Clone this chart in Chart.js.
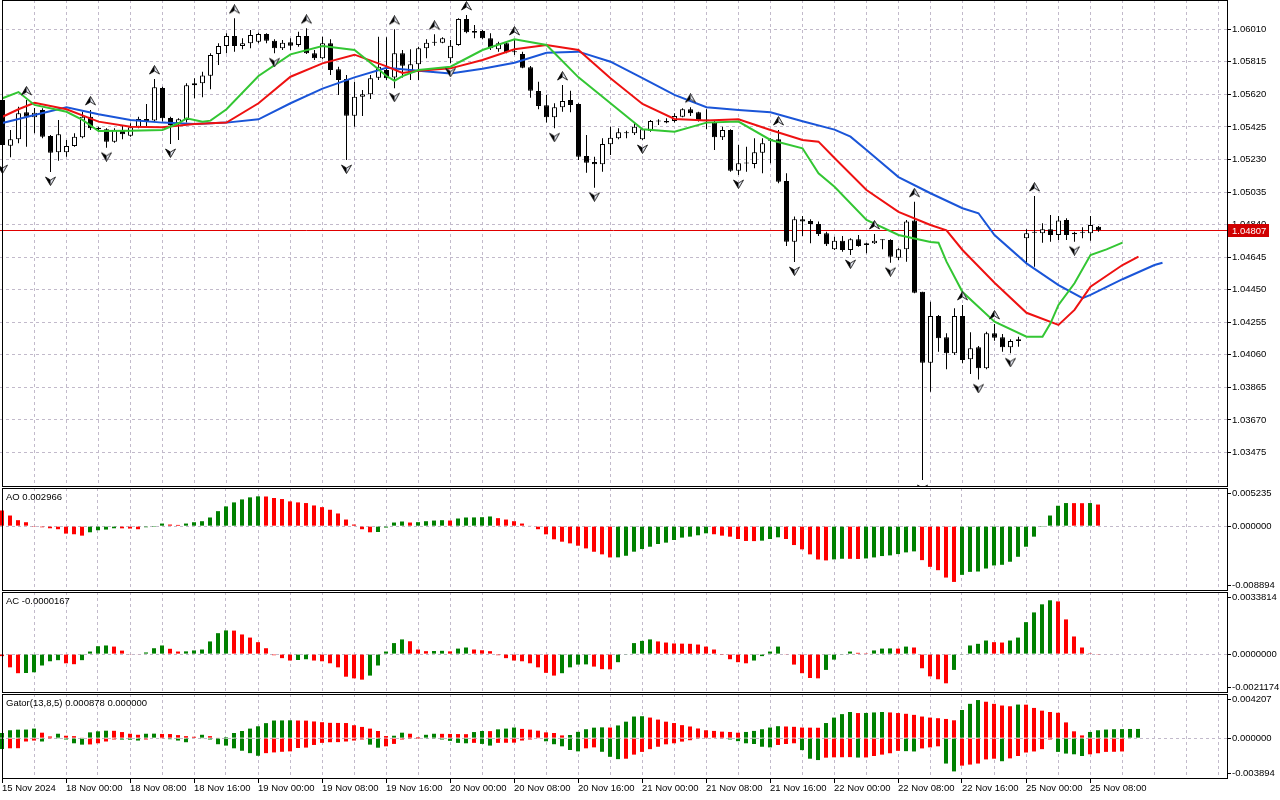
<!DOCTYPE html>
<html>
<head>
<meta charset="utf-8">
<title>EURUSD H1 - Alligator, AO, AC, Gator</title>
<script src="https://cdn.jsdelivr.net/npm/chart.js@4.4.1/dist/chart.umd.min.js"></script>
<style>
  html, body { margin: 0; padding: 0; background: #fff; }
  body { width: 1280px; height: 800px; position: relative; overflow: hidden; }
  canvas { position: absolute; left: 0; }
</style>
</head>
<body>
<canvas id="mainChart" width="1280" height="487" style="top:0px"></canvas>
<canvas id="aoChart" width="1280" height="103" style="top:488px"></canvas>
<canvas id="acChart" width="1280" height="101" style="top:592px"></canvas>
<canvas id="gatorChart" width="1280" height="106" style="top:694px"></canvas>
<script>
// hourly candles, 15 Nov 2024 16:00 .. 25 Nov 2024 09:00
const opens = [1.05587,1.05313,1.05351,1.05513,1.05483,1.05527,1.05371,1.05273,1.05273,1.05311,
  1.05363,1.05486,1.05421,1.05411,1.05337,1.05407,1.05373,1.05427,1.05473,1.05463,
  1.05658,1.05479,1.05447,1.05467,1.05675,1.05687,1.05732,1.05862,1.05910,1.05970,
  1.05910,1.05926,1.05936,1.05982,1.05942,1.05896,1.05932,1.05916,1.05970,1.05866,
  1.05836,1.05926,1.05770,1.05712,1.05492,1.05606,1.05621,1.05720,1.05766,1.05722,
  1.05866,1.05756,1.05800,1.05896,1.05930,1.05930,1.05836,1.05916,1.06072,1.06000,
  1.06000,1.05956,1.05890,1.05926,1.05876,1.05862,1.05782,1.05640,1.05555,1.05483,
  1.05543,1.05587,1.05563,1.05251,1.05215,1.05201,1.05321,1.05357,1.05387,1.05387,
  1.05351,1.05403,1.05457,1.05461,1.05461,1.05486,1.05531,1.05513,1.05463,1.05453,
  1.05363,1.05407,1.05163,1.05206,1.05203,1.05271,1.05343,1.05351,1.05101,1.04738,
  1.04872,1.04862,1.04844,1.04788,1.04692,1.04744,1.04688,1.04752,1.04718,1.04728,
  1.04748,1.04748,1.04642,1.04692,1.04864,1.04438,1.04013,1.04293,1.04165,1.04069,
  1.04293,1.04033,1.04105,1.03979,1.04189,1.04165,1.04105,1.04143,1.04758,1.04792,
  1.04788,1.04812,1.04778,1.04868,1.04782,1.04792,1.04788,1.04828];
const highs = [1.05604,1.05407,1.05546,1.05587,1.05539,1.05537,1.05377,1.05467,1.05347,1.05387,
  1.05516,1.05527,1.05427,1.05417,1.05417,1.05437,1.05447,1.05486,1.05563,1.05712,
  1.05666,1.05486,1.05477,1.05687,1.05717,1.05756,1.05866,1.05926,1.05986,1.06076,
  1.05956,1.06006,1.05990,1.05986,1.05950,1.05946,1.05956,1.05996,1.06016,1.05886,
  1.05966,1.05950,1.05786,1.05736,1.05696,1.05646,1.05736,1.05966,1.05962,1.06010,
  1.05886,1.05890,1.05906,1.05950,1.05980,1.05962,1.05946,1.06076,1.06096,1.06036,
  1.06006,1.05986,1.05936,1.05936,1.05946,1.05876,1.05790,1.05696,1.05616,1.05567,
  1.05676,1.05642,1.05567,1.05377,1.05247,1.05357,1.05427,1.05417,1.05403,1.05447,
  1.05417,1.05467,1.05471,1.05477,1.05507,1.05537,1.05543,1.05516,1.05531,1.05467,
  1.05427,1.05411,1.05317,1.05307,1.05357,1.05357,1.05357,1.05407,1.05147,1.04888,
  1.04892,1.04872,1.04858,1.04798,1.04768,1.04772,1.04758,1.04778,1.04732,1.04784,
  1.04752,1.04752,1.04698,1.04868,1.04977,1.04438,1.04378,1.04299,1.04189,1.04339,
  1.04359,1.04195,1.04113,1.04199,1.04245,1.04185,1.04153,1.04169,1.04812,1.05011,
  1.04848,1.04898,1.04892,1.04878,1.04798,1.04824,1.04892,1.04832];
const lows = [1.05227,1.05243,1.05327,1.05307,1.05387,1.05357,1.05155,1.05223,1.05247,1.05307,
  1.05357,1.05407,1.05397,1.05301,1.05331,1.05351,1.05367,1.05417,1.05427,1.05457,
  1.05457,1.05323,1.05347,1.05451,1.05597,1.05603,1.05651,1.05796,1.05866,1.05876,
  1.05890,1.05896,1.05926,1.05926,1.05866,1.05886,1.05886,1.05906,1.05862,1.05826,
  1.05830,1.05736,1.05616,1.05227,1.05427,1.05491,1.05592,1.05706,1.05706,1.05657,
  1.05722,1.05706,1.05706,1.05836,1.05912,1.05926,1.05806,1.05912,1.05986,1.05956,
  1.05950,1.05886,1.05876,1.05866,1.05856,1.05776,1.05600,1.05531,1.05451,1.05417,
  1.05516,1.05513,1.05227,1.05151,1.05061,1.05157,1.05257,1.05351,1.05357,1.05377,
  1.05347,1.05397,1.05437,1.05447,1.05451,1.05483,1.05491,1.05457,1.05411,1.05287,
  1.05347,1.05157,1.05137,1.05157,1.05177,1.05147,1.05207,1.05088,1.04712,1.04616,
  1.04772,1.04728,1.04772,1.04712,1.04688,1.04678,1.04658,1.04708,1.04668,1.04724,
  1.04692,1.04612,1.04628,1.04618,1.04429,1.03310,1.03839,1.04079,1.03973,1.04059,
  1.04009,1.03945,1.03913,1.03973,1.04145,1.04079,1.04069,1.04109,1.04608,1.04588,
  1.04732,1.04738,1.04748,1.04748,1.04738,1.04758,1.04744,1.04798];
const closes = [1.05317,1.05351,1.05507,1.05486,1.05510,1.05367,1.05271,1.05381,1.05311,1.05367,
  1.05486,1.05417,1.05411,1.05337,1.05407,1.05381,1.05423,1.05473,1.05461,1.05663,
  1.05477,1.05437,1.05471,1.05675,1.05687,1.05734,1.05856,1.05910,1.05970,1.05910,
  1.05926,1.05976,1.05982,1.05942,1.05896,1.05930,1.05912,1.05970,1.05866,1.05836,
  1.05926,1.05766,1.05706,1.05492,1.05606,1.05621,1.05717,1.05786,1.05717,1.05866,
  1.05792,1.05800,1.05896,1.05930,1.05936,1.05956,1.05912,1.06072,1.05992,1.05990,
  1.05956,1.05896,1.05926,1.05872,1.05872,1.05780,1.05642,1.05551,1.05483,1.05543,
  1.05581,1.05557,1.05247,1.05211,1.05201,1.05323,1.05361,1.05393,1.05393,1.05427,
  1.05411,1.05461,1.05459,1.05451,1.05491,1.05531,1.05507,1.05461,1.05465,1.05363,
  1.05407,1.05163,1.05207,1.05208,1.05273,1.05327,1.05351,1.05097,1.04738,1.04872,
  1.04858,1.04844,1.04784,1.04722,1.04744,1.04688,1.04752,1.04712,1.04728,1.04744,
  1.04746,1.04648,1.04692,1.04858,1.04432,1.04013,1.04293,1.04159,1.04069,1.04293,
  1.04029,1.04099,1.03979,1.04189,1.04163,1.04105,1.04143,1.04153,1.04788,1.04793,
  1.04812,1.04778,1.04864,1.04778,1.04792,1.04793,1.04838,1.04807];

// fractal bars (arrow above the high / below the low)
const fractalUpBars = [3, 11, 19, 29, 38, 49, 54, 58, 64, 70, 86, 97, 109, 114, 120, 124, 129];
const fractalDownBars = [0, 6, 13, 21, 34, 43, 49, 56, 69, 74, 80, 92, 99, 106, 111, 115, 122, 126, 134];

// alligator lines (already shifted forward)
const jawBars = [0,4,8,12,16,20,24,28,32,36,40,44,48,52,56,60,64,68,72,76,80,84,88,92,96,100,104,106,108,112,116,120,122,124,128,132,135,136,140,144,145];
const jawValues = [1.05449,1.05497,1.05543,1.05501,1.05467,1.05451,1.05443,1.05451,1.05471,1.05567,1.05655,1.05722,1.05780,1.05762,1.05746,1.05774,1.05810,1.05870,1.05876,1.05816,1.05718,1.05617,1.05543,1.05527,1.05513,1.05459,1.05409,1.05367,1.05287,1.05125,1.05028,1.04938,1.04908,1.04778,1.04608,1.04478,1.04399,1.04419,1.04513,1.04598,1.04612];
const teethBars = [0,2,4,8,12,16,20,24,28,32,36,40,44,48,50,52,56,60,64,68,72,76,80,84,88,92,96,100,102,104,108,112,116,118,120,124,128,132,134,136,140,142];
const teethValues = [1.05486,1.05531,1.05570,1.05531,1.05457,1.05427,1.05423,1.05443,1.05451,1.05567,1.05726,1.05806,1.05858,1.05788,1.05748,1.05762,1.05776,1.05826,1.05890,1.05916,1.05886,1.05717,1.05563,1.05473,1.05463,1.05471,1.05407,1.05347,1.05337,1.05239,1.05047,1.04916,1.04838,1.04806,1.04688,1.04492,1.04312,1.04239,1.04329,1.04468,1.04598,1.04648];
const lipsBars = [0,2,4,8,10,12,16,20,22,23,25,26,28,32,36,40,44,46,48,49,50,52,56,60,64,68,72,76,80,84,88,92,96,100,102,104,108,112,116,117,118,120,124,128,130,131,132,134,136,138,140];
const lipsValues = [1.05597,1.05634,1.05557,1.05516,1.05467,1.05401,1.05403,1.05407,1.05447,1.05477,1.05457,1.05463,1.05531,1.05730,1.05860,1.05910,1.05886,1.05810,1.05730,1.05702,1.05730,1.05766,1.05786,1.05886,1.05950,1.05916,1.05722,1.05567,1.05411,1.05397,1.05451,1.05457,1.05347,1.05297,1.05147,1.05067,1.04868,1.04778,1.04736,1.04732,1.04618,1.04436,1.04259,1.04169,1.04169,1.04249,1.04359,1.04489,1.04658,1.04692,1.04732];

const aoValues = [0.00215,0.00146,0.00082,0.00054,-0.00003,-0.00015,-0.00029,-0.00042,-0.00102,-0.00111,
  -0.0013,-0.00084,-0.00056,-0.00047,-0.00029,-0.0003,-0.00033,-0.00042,-0.00015,-0.00001,
  0.00036,0.00022,0.00017,0.00036,0.00054,0.00068,0.00119,0.00206,0.00271,0.00326,
  0.00367,0.00395,0.00409,0.00407,0.00386,0.00372,0.0034,0.00326,0.00317,0.00284,
  0.00261,0.00225,0.00174,0.00091,0.00022,-0.00042,-0.00084,-0.0008,-0.00019,0.0005,
  0.00064,0.0005,0.00055,0.00068,0.00077,0.00082,0.00077,0.00105,0.00119,0.0012,
  0.00123,0.00133,0.0011,0.00091,0.00068,0.00036,0.00008,-0.00042,-0.00112,-0.0018,
  -0.00213,-0.00236,-0.00268,-0.00305,-0.00351,-0.00387,-0.00429,-0.00428,-0.00406,-0.0035,
  -0.00314,-0.00282,-0.00245,-0.00226,-0.0019,-0.00157,-0.00144,-0.00125,-0.00098,-0.00111,
  -0.0013,-0.00144,-0.00176,-0.00203,-0.00205,-0.00199,-0.00176,-0.00153,-0.00176,-0.00259,
  -0.00318,-0.00387,-0.00457,-0.0047,-0.00456,-0.00447,-0.00448,-0.0045,-0.00443,-0.00429,
  -0.0041,-0.00401,-0.00383,-0.0036,-0.00346,-0.00466,-0.00558,-0.00604,-0.00705,-0.00765,
  -0.00668,-0.00627,-0.00622,-0.00581,-0.00539,-0.0053,-0.00488,-0.0042,-0.00282,-0.00144,
  -0.00003,0.00146,0.0028,0.00317,0.00316,0.00315,0.00317,0.002966];
const acValues = [-0.00011,-0.00072,-0.00104,-0.00103,-0.00099,-0.00062,-0.00039,-0.00033,-0.0005,-0.00055,
  -0.00033,0.00014,0.00043,0.00047,0.00041,0.00019,-0.00002,-0.00003,0.00009,0.00032,
  0.00047,0.00029,0.00014,0.00015,0.0002,0.00025,0.00069,0.00114,0.00129,0.00128,
  0.00107,0.0009,0.00065,0.00032,-0.00006,-0.00022,-0.00035,-0.00032,-0.00028,-0.00035,
  -0.00039,-0.0005,-0.00072,-0.00123,-0.00132,-0.00139,-0.00117,-0.00062,0.00014,0.0006,
  0.0008,0.0007,0.00025,0.00016,0.00017,0.00018,0.00015,0.0003,0.00036,0.00025,
  0.00021,0.00016,-0.00006,-0.00022,-0.00035,-0.00039,-0.0005,-0.00072,-0.00102,-0.00117,
  -0.00104,-0.00072,-0.00057,-0.00056,-0.00068,-0.00082,-0.00083,-0.00044,-0.00002,0.0006,
  0.00072,0.0008,0.00069,0.00063,0.00058,0.00057,0.00056,0.00052,0.00041,0.00025,
  -0.00001,-0.00028,-0.00044,-0.0005,-0.00035,-0.00011,0.00014,0.00041,-0.00002,-0.00057,
  -0.00104,-0.0013,-0.00132,-0.00086,-0.0003,-0.00002,0.00014,0.00007,0.00001,0.0002,
  0.0003,0.00031,0.0003,0.00041,0.00036,-0.00077,-0.00121,-0.00137,-0.00159,-0.00086,
  -0.00002,0.00047,0.00056,0.00074,0.00065,0.00063,0.00074,0.0009,0.00174,0.00227,
  0.00271,0.00293,0.00287,0.00189,0.00096,0.00036,0.00001,-0.0000167];
const gatorUp = [0.00049,0.00075,0.00081,0.00082,0.00091,0.00052,0.00016,0.00042,0.00023,0.00019,
  0.00006,0.00055,0.00065,0.00071,0.0007,0.00058,0.00042,0.00032,0.00042,0.00043,
  0.0004,0.00039,0.00029,0.00019,0.00013,0.00032,0.00019,0.00004,0.0001,0.00049,
  0.00068,0.00091,0.00113,0.00143,0.00168,0.00169,0.0017,0.00168,0.00167,0.00159,
  0.00152,0.00146,0.00145,0.00144,0.00123,0.00107,0.00091,0.00068,0.0002,0.00023,
  0.00052,0.00042,0.0001,0.00032,0.00042,0.00041,0.0004,0.00039,0.00038,0.00058,
  0.00068,0.00067,0.00084,0.00091,0.00101,0.00088,0.00081,0.00071,0.00055,0.00049,
  0.00026,0.0003,0.0006,0.00085,0.001,0.00103,0.00101,0.00121,0.00157,0.00206,
  0.00209,0.00196,0.00177,0.00157,0.00144,0.00124,0.00111,0.00092,0.00075,0.00069,
  0.00062,0.00059,0.00052,0.00059,0.00069,0.00085,0.00101,0.00114,0.00111,0.00108,
  0.00101,0.001,0.00099,0.00144,0.00196,0.00229,0.00249,0.00239,0.0024,0.00245,
  0.00249,0.00245,0.00239,0.00232,0.00222,0.00206,0.00196,0.0019,0.00183,0.0017,
  0.00268,0.00327,0.00363,0.00347,0.00327,0.00311,0.00304,0.0032,0.00319,0.00288,
  0.00262,0.00249,0.00242,0.0015,0.00065,0.00026,0.00059,0.00075,0.00082,0.00085,
  0.00086,0.000875,0.000878];
const gatorDown = [-0.00104,-0.00097,-0.00096,-0.00032,-0.00023,-0.00032,-0.00002,-0.00003,-0.00013,-0.00049,
  -0.00062,-0.0006,-0.00049,-0.00032,-0.00013,-0.00014,-0.00015,-0.00023,-0.00013,-0.00005,
  -0.00003,-0.0001,-0.00023,-0.00039,-0.00005,-0.00006,-0.00013,-0.00058,-0.00071,-0.00097,
  -0.0012,-0.00143,-0.00168,-0.00143,-0.00136,-0.0013,-0.00126,-0.00094,-0.0009,-0.00065,
  -0.00045,-0.00039,-0.00038,-0.00032,-0.00023,-0.00013,-0.00062,-0.00091,-0.00078,-0.00055,
  -0.00013,-0.00002,-0.00001,-0.00006,-0.00007,-0.00013,-0.00026,-0.00045,-0.00049,-0.00045,
  -0.00055,-0.00071,-0.00045,-0.00044,-0.00043,-0.00023,-0.00013,-0.00006,-0.0003,-0.00058,
  -0.00078,-0.00113,-0.00126,-0.00097,-0.00088,-0.0013,-0.00178,-0.002,-0.00196,-0.00157,
  -0.00131,-0.00105,-0.00082,-0.00059,-0.00049,-0.00033,-0.0002,-0.00007,-0.00006,-0.00005,
  -0.00003,-0.00013,-0.00029,-0.00049,-0.00056,-0.00082,-0.00088,-0.00065,-0.00056,-0.00049,
  -0.00114,-0.00196,-0.00209,-0.00186,-0.00183,-0.00182,-0.00181,-0.00185,-0.00184,-0.0017,
  -0.00157,-0.00144,-0.00121,-0.00124,-0.00127,-0.00098,-0.00088,-0.00078,-0.00242,-0.00317,
  -0.00262,-0.00252,-0.00242,-0.00203,-0.00196,-0.0022,-0.00193,-0.0017,-0.00137,-0.00127,
  -0.00105,-0.00013,-0.00131,-0.00147,-0.00154,-0.0017,-0.00154,-0.00144,-0.00131,-0.0013,
  -0.00127];

const timeLabels = ['15 Nov 2024','18 Nov 00:00','18 Nov 08:00','18 Nov 16:00','19 Nov 00:00','19 Nov 08:00',
  '19 Nov 16:00','20 Nov 00:00','20 Nov 08:00','20 Nov 16:00','21 Nov 00:00','21 Nov 08:00',
  '21 Nov 16:00','22 Nov 00:00','22 Nov 08:00','22 Nov 16:00','25 Nov 00:00','25 Nov 08:00'];
const priceTicks = [1.06010,1.05815,1.05620,1.05425,1.05230,1.05035,1.04840,1.04645,1.04450,1.04255,1.04060,1.03865,1.03670,1.03475];
const priceTop = 1.061855, priceBottom = 1.032684;
const aoRange = [0.005235, -0.008894], aoLabels = ['0.005235', '0.000000', '-0.008894'];
const acRange = [0.0033814, -0.0021174], acLabels = ['0.0033814', '0.0000000', '-0.0021174'];
const gatorRange = [0.004207, -0.003894], gatorLabels = ['0.004207', '0.000000', '-0.003894'];
const lastPrice = closes[closes.length - 1];

const FONT = "'Liberation Sans', Arial, sans-serif";
const GRID = '#c2bacb';
const GREEN = '#008000', RED = '#ff0000';
const BAR_PX = 8;       // one bar every 8 px
const AREA_W = 1227;    // plot width, right axis takes the rest

Chart.defaults.font.family = FONT;
Chart.defaults.font.size = 9.5;
Chart.defaults.color = '#000';
Chart.defaults.animation = false;
Chart.defaults.layout.autoPadding = false;
Chart.defaults.plugins.legend.display = false;
Chart.defaults.plugins.tooltip.enabled = false;

// frame round each window
const frame = {
  id: 'frame',
  afterDraw(chart) {
    const {ctx, chartArea: a} = chart;
    ctx.save();
    ctx.strokeStyle = '#000';
    ctx.lineWidth = 1;
    ctx.strokeRect(2.5, a.top + 0.5, a.right - 2, a.bottom - a.top - 1);
    ctx.restore();
  }
};

const panelTitle = {
  id: 'panelTitle',
  afterDraw(chart, args, opts) {
    if (!opts.text) return;
    const {ctx, chartArea: a} = chart;
    ctx.save();
    ctx.font = '9.5px ' + FONT;
    ctx.fillStyle = '#000';
    ctx.textBaseline = 'middle';
    ctx.fillText(opts.text, 6, a.top + 9.5);
    ctx.restore();
  }
};

const priceTag = {
  id: 'priceTag',
  beforeDatasetsDraw(chart) {
    const {ctx, chartArea: a} = chart;
    const y = Math.round(chart.scales.y.getPixelForValue(lastPrice)) + 0.5;
    ctx.save();
    ctx.strokeStyle = '#e00000';
    ctx.lineWidth = 1;
    ctx.beginPath();
    ctx.moveTo(a.left, y);
    ctx.lineTo(a.right, y);
    ctx.stroke();
    ctx.restore();
  },
  afterDraw(chart) {
    const {ctx, chartArea: a} = chart;
    const y = Math.round(chart.scales.y.getPixelForValue(lastPrice));
    ctx.save();
    ctx.fillStyle = '#d00000';
    ctx.fillRect(a.right + 1, y - 6, 41, 13);
    ctx.fillStyle = '#fff';
    ctx.font = '9.5px ' + FONT;
    ctx.textBaseline = 'middle';
    ctx.fillText(lastPrice.toFixed(5), a.right + 5, y + 1);
    ctx.restore();
  }
};

function arrowImage(up) {
  const c = document.createElement('canvas');
  c.width = 11; c.height = 28;
  const g = c.getContext('2d');
  if (!up) { g.translate(0, 28); g.scale(1, -1); }
  g.beginPath();
  g.moveTo(5.5, 0.5); g.lineTo(0.5, 9); g.lineTo(5.5, 6); g.lineTo(10.5, 9); g.closePath();
  g.fillStyle = '#dfe3ee'; g.fill();
  g.strokeStyle = '#303030'; g.lineWidth = 1; g.stroke();
  g.beginPath();
  g.moveTo(5.5, 0.5); g.lineTo(0.5, 9); g.lineTo(5.5, 6); g.closePath();
  g.fillStyle = '#000'; g.fill();
  return c;
}

function xAxis(min, withLabels) {
  return {
    type: 'linear', min: min, max: min + AREA_W / BAR_PX, offset: false,
    afterBuildTicks: s => {
      const t = [];
      for (let v = 0; v <= 152; v += 4) t.push({value: v});
      s.ticks = t;
    },
    afterFit: s => { s.paddingLeft = 0; s.paddingRight = 0; s.height = withLabels ? 21 : 0; },
    grid: {
      color: GRID, offset: false, drawTicks: withLabels, tickLength: 4,
      tickColor: c => (c.tick && c.tick.value % 8 === 0 && c.tick.value / 8 < timeLabels.length) ? '#000' : 'rgba(0,0,0,0)'
    },
    border: { display: false, dash: [3, 3] },
    ticks: {
      display: withLabels, autoSkip: false, maxRotation: 0, minRotation: 0, align: 'start', padding: 0,
      callback: v => (v % 8 === 0 && timeLabels[v / 8]) ? timeLabels[v / 8] : ''
    }
  };
}

function panelY(range, labels) {
  return {
    position: 'right', max: range[0], min: range[1],
    afterBuildTicks: s => {
      const k = (s.max - s.min) / s.height;
      s.ticks = [{value: s.max - 5.5 * k}, {value: 0}, {value: s.min + 5.5 * k}];
    },
    afterFit: s => { s.width = 1280 - AREA_W; s.paddingTop = 0; s.paddingBottom = 0; },
    grid: { color: c => c.index === 1 ? GRID : 'rgba(0,0,0,0)', tickColor: '#000', tickLength: 4 },
    border: { display: false, dash: [3, 3] },
    ticks: { padding: 1, autoSkip: false, callback: (v, i) => labels[i] }
  };
}

function histColors(values, first, useAbs) {
  return values.map((v, i) => {
    if (i === 0) return first;
    const a = useAbs ? Math.abs(v) : v;
    const b = useAbs ? Math.abs(values[i - 1]) : values[i - 1];
    return a > b ? GREEN : RED;
  });
}

function histSet(values, colors) {
  return {
    data: values.map((v, i) => ({x: i, y: v})),
    backgroundColor: colors, borderWidth: 0, barThickness: 4,
    grouped: false, inflateAmount: 0
  };
}

// main window: candles, alligator, fractals
const wickData = highs.map((h, i) => ({x: i, y: [lows[i], h]}));
const bodyData = opens.map((o, i) => ({x: i, y: [o, closes[i]]}));
const bodyFill = opens.map((o, i) => closes[i] >= o ? '#ffffff' : '#000000');
const pairs = (bars, vals) => bars.map((b, i) => ({x: b, y: vals[i]}));

new Chart(document.getElementById('mainChart'), {
  type: 'bar',
  data: {
    datasets: [
      { data: wickData, backgroundColor: '#000', borderWidth: 0, barThickness: 1, grouped: false, inflateAmount: 0, order: 5 },
      { data: bodyData, backgroundColor: bodyFill, borderColor: '#000', borderWidth: 1, borderSkipped: false,
        barThickness: 5, minBarLength: 1, grouped: false, inflateAmount: 0, order: 4 },
      { type: 'line', data: pairs(jawBars, jawValues), borderColor: '#1a55d8', borderWidth: 2, pointRadius: 0, tension: 0, order: 3 },
      { type: 'line', data: pairs(teethBars, teethValues), borderColor: '#ee1111', borderWidth: 2, pointRadius: 0, tension: 0, order: 2 },
      { type: 'line', data: pairs(lipsBars, lipsValues), borderColor: '#33c633', borderWidth: 2, pointRadius: 0, tension: 0, order: 1 },
      { type: 'line', showLine: false, data: fractalUpBars.map(b => ({x: b, y: highs[b]})),
        pointStyle: arrowImage(true), pointRadius: 5, order: 0 },
      { type: 'line', showLine: false, data: fractalDownBars.map(b => ({x: b, y: lows[b]})),
        pointStyle: arrowImage(false), pointRadius: 5, order: 0 }
    ]
  },
  options: {
    responsive: false, devicePixelRatio: 1, events: [],
    layout: { padding: 0, autoPadding: false },
    scales: {
      x: xAxis(-2.5 / BAR_PX, false),
      y: {
        position: 'right', min: priceBottom, max: priceTop,
        afterBuildTicks: s => { s.ticks = priceTicks.map(v => ({value: v})); },
        afterFit: s => { s.width = 1280 - AREA_W; s.paddingTop = 0; s.paddingBottom = 0; },
        grid: { color: GRID, tickColor: '#000', tickLength: 4 },
        border: { display: false, dash: [3, 3] },
        ticks: { padding: 1, autoSkip: false, callback: v => v.toFixed(5) }
      }
    }
  },
  plugins: [priceTag, frame]
});

// AO window
new Chart(document.getElementById('aoChart'), {
  type: 'bar',
  data: { datasets: [histSet(aoValues, histColors(aoValues, RED, false))] },
  options: {
    responsive: false, devicePixelRatio: 1, events: [],
    scales: { x: xAxis(-2 / BAR_PX, false), y: panelY(aoRange, aoLabels) },
    plugins: { panelTitle: { text: 'AO ' + aoValues[aoValues.length - 1].toFixed(6) } }
  },
  plugins: [panelTitle, frame]
});

// AC window
new Chart(document.getElementById('acChart'), {
  type: 'bar',
  data: { datasets: [histSet(acValues, histColors(acValues, RED, false))] },
  options: {
    responsive: false, devicePixelRatio: 1, events: [],
    scales: { x: xAxis(-2 / BAR_PX, false), y: panelY(acRange, acLabels) },
    plugins: { panelTitle: { text: 'AC ' + acValues[acValues.length - 1].toFixed(7) } }
  },
  plugins: [panelTitle, frame]
});

// Gator window with the time axis
new Chart(document.getElementById('gatorChart'), {
  type: 'bar',
  data: {
    datasets: [
      histSet(gatorUp, histColors(gatorUp, GREEN, true)),
      histSet(gatorDown, histColors(gatorDown, GREEN, true))
    ]
  },
  options: {
    responsive: false, devicePixelRatio: 1, events: [],
    scales: { x: xAxis(-2 / BAR_PX, true), y: panelY(gatorRange, gatorLabels) },
    plugins: { panelTitle: { text: 'Gator(13,8,5) ' + gatorUp[gatorUp.length - 1].toFixed(6) + ' 0.000000' } }
  },
  plugins: [panelTitle, frame]
});
</script>
</body>
</html>
